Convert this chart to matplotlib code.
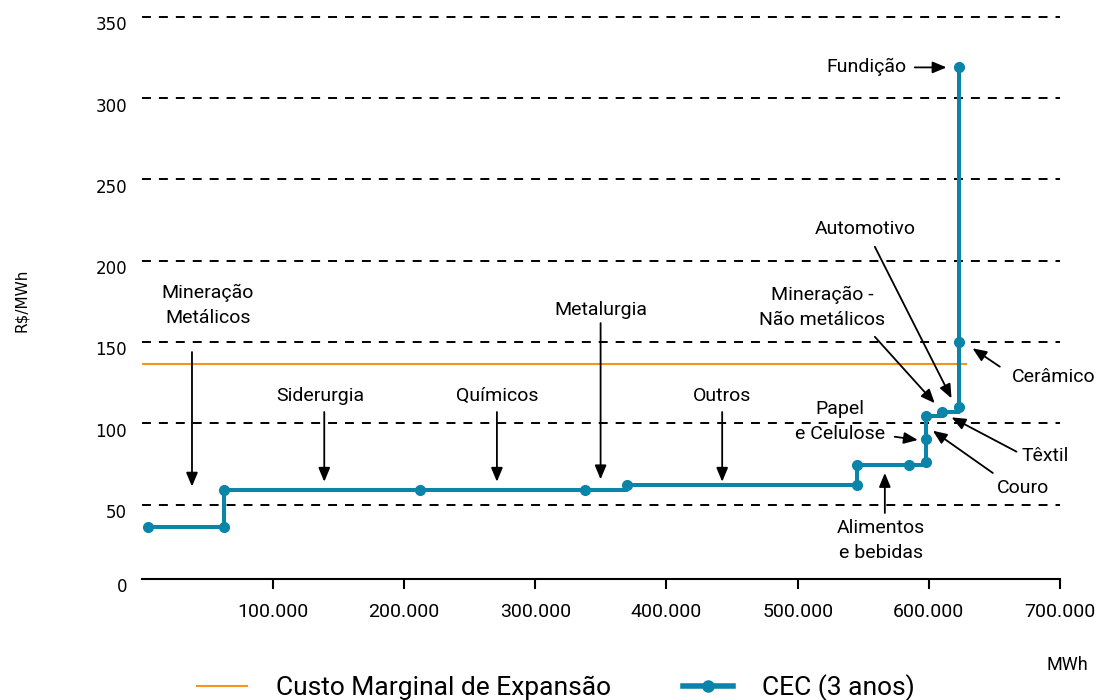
import matplotlib
matplotlib.use('Agg')
import matplotlib.pyplot as plt
import matplotlib.transforms as mtransforms
from matplotlib.lines import Line2D

# ---------------- data ----------------
CEC_X = [5000, 63000, 63000, 212000, 338000, 370000, 545000, 545000,
         585000, 598000, 598000, 598000, 610000, 623000, 623000, 623000]
CEC_Y = [36, 36, 59, 59, 59, 62, 62, 74.5,
         74.5, 76, 90, 104.5, 107, 110, 150, 319]
CME_X = [0, 628000]
CME_Y = [136.4, 136.4]

GRID_Y = [50, 100, 150, 200, 250, 300, 350]
YTICK_VALUES = [0, 50, 100, 150, 200, 250, 300, 350]
YTICK_LABELS = ['0', '50', '100', '150', '200', '250', '300', '350']
XTICK_VALUES = [100000, 200000, 300000, 400000, 500000, 600000, 700000]
XTICK_LABELS = ['100.000', '200.000', '300.000', '400.000',
                '500.000', '600.000', '700.000']

SERIES_LABELS = ['Custo Marginal de Expansão', 'CEC (3 anos)']

# (label, text position, arrow tail, arrow head, ha)
ANNOTATIONS = [
    ('Mineração\nMetálicos', (50460, 172.4), (38260, 143.8), (38260, 61.0), 'center'),
    ('Siderurgia', (135820, 116.7), (139100, 106.9), (139100, 64.0), 'center'),
    ('Químicos', (270730, 116.7), (270730, 106.9), (270730, 64.0), 'center'),
    ('Metalurgia', (349990, 169.6), (349770, 161.6), (349770, 65.5), 'center'),
    ('Outros', (442170, 116.7), (442460, 106.9), (442460, 64.0), 'center'),
    ('Papel\ne Celulose', (532040, 100.8), (573970, 91.7), (591620, 89.7), 'center'),
    ('Alimentos\ne bebidas', (563350, 27.6), (566460, 44.8), (566460, 69.4), 'center'),
    ('Mineração -\nNão metálicos', (518720, 171.5), (558810, 153.2), (604520, 112.3), 'center'),
    ('Automotivo', (551510, 219.4), (558810, 208.6), (617310, 115.3), 'center'),
    ('Cerâmico', (694900, 128.6), (654120, 134.8), (633310, 146.1), 'center'),
    ('Têxtil', (688800, 79.8), (666850, 82.5), (617310, 103.6), 'center'),
    ('Couro', (672040, 60.0), (648780, 69.4), (603060, 95.4), 'center'),
    ('Fundição', (583010, 318.9), (589240, 318.9), (613500, 318.9), 'right'),
]

# ---------------- style ----------------
TEAL = '#0a84a8'
ORANGE = '#f7941d'
FONT = ['Roboto', 'DejaVu Sans']
TICKFONT = ['DejaVu Sans']

W, H = 1103, 700
fig = plt.figure(figsize=(W / 100, H / 100), dpi=100)
ax_left, ax_right = 141.8 / W, 1060 / W
ax_bottom_px, ax_top_px = 579, 13.6
ax = fig.add_axes([ax_left, 1 - ax_bottom_px / H, ax_right - ax_left,
                   (ax_bottom_px - ax_top_px) / H])

YMIN, YMAX = 4.18, 352
ax.set_xlim(0, 700000)
ax.set_ylim(YMIN, YMAX)

for s in ['left', 'right', 'top']:
    ax.spines[s].set_visible(False)
ax.spines['bottom'].set_linewidth(1.5)
ax.spines['bottom'].set_color('black')

# grid lines
for g in GRID_Y:
    ax.axhline(g, color='black', lw=1.4, linestyle=(0, (4.6, 4.1)), zorder=1)

# series
ax.plot(CME_X, CME_Y, color=ORANGE, lw=1.5, zorder=2)
ax.plot(CEC_X, CEC_Y, color=TEAL, lw=2.9, drawstyle='steps-post', zorder=3)
ax.plot(CEC_X, CEC_Y, color=TEAL, lw=0, marker='o', markersize=7, zorder=4)

# x ticks
ax.set_xticks(XTICK_VALUES)
ax.set_xticklabels(XTICK_LABELS, fontfamily=FONT, fontsize=14)
ax.tick_params(axis='x', direction='out', length=7, width=1.5, pad=10, colors='black')

# y ticks (labels drawn slightly below lines as in reference)
ax.set_yticks([])
off = mtransforms.ScaledTranslation(-14.8 / 100, -8.5 / 100, fig.dpi_scale_trans)
trans = mtransforms.blended_transform_factory(ax.transAxes, ax.transData) + off
for v, lab in zip(YTICK_VALUES, YTICK_LABELS):
    ax.text(0, max(v, YMIN), lab, transform=trans, ha='right', va='center',
            fontsize=12, fontfamily=TICKFONT, color='black')

# annotations
for lab, txy, tail, head, ha in ANNOTATIONS:
    ax.text(txy[0], txy[1], lab, ha=ha, va='center', multialignment='center',
            fontsize=14, fontfamily=FONT, linespacing=1.5, color='black')
    ax.annotate('', xy=head, xytext=tail,
                arrowprops=dict(arrowstyle='-|>,head_length=0.6,head_width=0.25',
                                color='black', lw=1.3, shrinkA=0, shrinkB=0,
                                mutation_scale=14))

# axis labels
fig.text(22 / W, 1 - 300 / H, 'R$/MWh', rotation=90, ha='center', va='center',
         fontsize=11, fontfamily=TICKFONT)
fig.text(1067 / W, 1 - 665 / H, 'MWh', ha='center', va='center',
         fontsize=13, fontfamily=FONT)

# legend
handles = [Line2D([], [], color=ORANGE, lw=1.5),
           Line2D([], [], color=TEAL, lw=4, marker='o', markersize=8)]
fig.legend(handles, SERIES_LABELS, loc='center', bbox_to_anchor=(0.504, 0.018),
           ncol=2, frameon=False, prop={'family': FONT, 'size': 19},
           handlelength=1.9, handletextpad=1.1, columnspacing=2.7)

fig.savefig('out.png', dpi=100)
